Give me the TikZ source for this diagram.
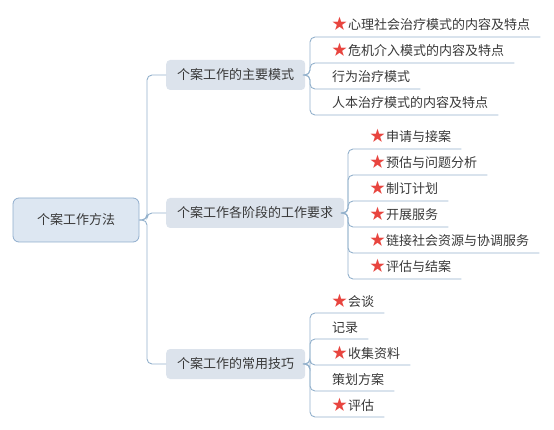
\documentclass[tikz,border=0pt]{standalone}
\usepackage{fontspec}
\setmainfont{Noto Sans CJK SC}
\usetikzlibrary{positioning, calc}
\definecolor{rootfill}{HTML}{DDE7F2}
\definecolor{rootline}{HTML}{8EACCD}
\definecolor{midfill}{HTML}{DCE3EC}
\definecolor{linkblue}{HTML}{93B1CC}
\definecolor{txtgray}{HTML}{383838}
\definecolor{starred}{HTML}{E8453F}
\newcommand{\hot}{\textcolor{starred}{\fontsize{15}{15}\selectfont ★}\hspace{1pt}}

\begin{document}
\begin{tikzpicture}[
    x=1pt, y=-1pt,
    every node/.style={text=txtgray, font=\fontsize{13}{15}\selectfont},
    rootnode/.style={draw=rootline, fill=rootfill, line width=0.8pt,
      rounded corners=6pt, minimum width=126pt, minimum height=44pt},
    midnode/.style={fill=midfill, rounded corners=4pt, inner xsep=11pt,
      minimum height=30pt, anchor=west},
    leafnode/.style={inner sep=0pt, anchor=base west},
    link/.style={draw=linkblue, line width=0.9pt, rounded corners=5pt},
  ]

  % Canvas
  \useasboundingbox (0,0) rectangle (554,430);

  % Root and main branches
  \node[rootnode] (root) at (76,220) {个案工作方法};
  \node[midnode] (m1) at (166,75) {个案工作的主要模式};
  \node[midnode] (m2) at (166,213) {个案工作各阶段的工作要求};
  \node[midnode] (m3) at (166,364) {个案工作的常用技巧};

  \coordinate (t0) at (147,220);
  \foreach \m in {m1,m2,m3}
    \draw[link] (root.east) -- (t0) |- (\m.west);

  % Trunks of the branches
  \coordinate (t1) at (310,75);
  \coordinate (t2) at (348,213);
  \coordinate (t3) at (310,364);

  % Leaves: main models
  \foreach \yy/\lbl [count=\i] in {
      30/{\hot 心理社会治疗模式的内容及特点},
      56/{\hot 危机介入模式的内容及特点},
      82/{行为治疗模式},
      108/{人本治疗模式的内容及特点}} {
    \node[leafnode] (a\i) at (332,\yy) {\lbl};
    \draw[link] (m1.east) -- (t1) |- ($(a\i.base east)+(10,7)$);
  }

  % Leaves: stages
  \foreach \yy/\lbl [count=\i] in {
      142/{\hot 申请与接案},
      168/{\hot 预估与问题分析},
      194/{\hot 制订计划},
      220/{\hot 开展服务},
      246/{\hot 链接社会资源与协调服务},
      272/{\hot 评估与结案}} {
    \node[leafnode] (b\i) at (370,\yy) {\lbl};
    \draw[link] (m2.east) -- (t2) |- ($(b\i.base east)+(10,7)$);
  }

  % Leaves: skills
  \foreach \yy/\lbl [count=\i] in {
      306/{\hot 会谈},
      332/{记录},
      358/{\hot 收集资料},
      384/{策划方案},
      410/{\hot 评估}} {
    \node[leafnode] (c\i) at (332,\yy) {\lbl};
    \draw[link] (m3.east) -- (t3) |- ($(c\i.base east)+(10,7)$);
  }

\end{tikzpicture}
\end{document}
